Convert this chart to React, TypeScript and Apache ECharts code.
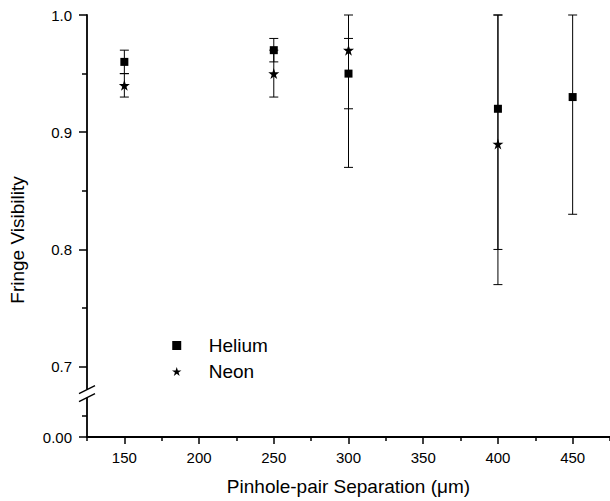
import React, { useEffect, useRef } from "react";
import * as echarts from "echarts";

// ---- data ----
const separations = [150, 250, 300, 400, 450];
const heliumValues = [0.96, 0.97, 0.95, 0.92, 0.93];
const heliumLow = [0.95, 0.96, 0.92, 0.8, 0.83];
const heliumHigh = [0.97, 0.98, 0.98, 1.0, 1.0];

const neonSeparations = [150, 250, 300, 400];
const neonValues = [0.94, 0.95, 0.97, 0.89];
const neonLow = [0.93, 0.93, 0.87, 0.77];
const neonHigh = [0.95, 0.97, 1.0, 1.0];

// x axis ticks
const xMajorTicks = [150, 200, 250, 300, 350, 400, 450];
const xMinorTicks = [125, 175, 225, 275, 325, 375, 425, 475];
const X_MIN = 125;
const X_MAX = 475;

// y axis (broken: bottom of the axis stands for 0.00)
const Y_MIN = 0.64;
const Y_MAX = 1.0;
const yMajorTicks = [0.64, 0.7, 0.8, 0.9, 1.0];
const yTickLabels = ["0.00", "0.7", "0.8", "0.9", "1.0"];
const yMinorTicks = [0.658, 0.75, 0.85, 0.95];
const BREAK_AT = 0.677;

const FONT = "'Liberation Sans', Arial, Helvetica, sans-serif";
const STAR =
  "path://M50,0 L61.2,34.5 L97.6,34.5 L68.2,55.9 L79.4,90.5 L50,69.1 L20.6,90.5 L31.8,55.9 L2.4,34.5 L38.8,34.5 Z";
const SQUARE = "path://M0,0 L10,0 L10,10 L0,10 Z";

function errorBarRenderer(params: any, api: any) {
  const x = api.value(0);
  const lo = api.value(1);
  const hi = api.value(2);
  const pHi = api.coord([x, hi]);
  const pLo = api.coord([x, lo]);
  const hw = 4.5;
  const style = { stroke: "#000", lineWidth: 1 };
  return {
    type: "group",
    children: [
      { type: "line", shape: { x1: pHi[0], y1: pHi[1], x2: pLo[0], y2: pLo[1] }, style },
      { type: "line", shape: { x1: pHi[0] - hw, y1: pHi[1], x2: pHi[0] + hw, y2: pHi[1] }, style },
      { type: "line", shape: { x1: pLo[0] - hw, y1: pLo[1], x2: pLo[0] + hw, y2: pLo[1] }, style },
    ],
  };
}

export default function App() {
  const ref = useRef<HTMLDivElement>(null);
  useEffect(() => {
    if (!ref.current) return;
    const chart = echarts.init(ref.current, null, { renderer: "svg" });
    const heliumErr = separations.map((x, i) => [x, heliumLow[i], heliumHigh[i]]);
    const neonErr = neonSeparations.map((x, i) => [x, neonLow[i], neonHigh[i]]);
    const axisLineStyle = { color: "#000", width: 1.8 };
    chart.setOption({
      animation: false,
      backgroundColor: "#fff",
      grid: { left: 86, right: 0, top: 15, bottom: 64 },
      legend: {
        data: [
          { name: "Helium", icon: SQUARE },
          { name: "Neon", icon: STAR },
        ],
        orient: "vertical",
        left: 167,
        top: 331,
        itemWidth: 54,
        itemHeight: 9,
        itemGap: 7,
        textStyle: { fontFamily: FONT, fontSize: 19, color: "#000" },
        selectedMode: false,
      },
      xAxis: [
        {
          type: "value",
          min: X_MIN,
          max: X_MAX,
          name: "Pinhole-pair Separation (\u03bcm)",
          nameLocation: "middle",
          nameGap: 40,
          nameTextStyle: { fontFamily: FONT, fontSize: 19, color: "#000" },
          axisLine: { show: true, lineStyle: axisLineStyle },
          axisTick: {
            show: true,
            customValues: xMajorTicks,
            length: 7,
            lineStyle: { color: "#000", width: 1.5 },
          },
          axisLabel: {
            customValues: xMajorTicks,
            margin: 13,
            fontFamily: FONT,
            fontSize: 15,
            color: "#000",
          },
          splitLine: { show: false },
        },
        {
          type: "value",
          min: X_MIN,
          max: X_MAX,
          position: "bottom",
          axisLine: { show: false },
          axisTick: {
            show: true,
            customValues: xMinorTicks,
            length: 4,
            lineStyle: { color: "#000", width: 1.5 },
          },
          axisLabel: { show: false },
          splitLine: { show: false },
        },
      ],
      yAxis: [
        {
          type: "value",
          min: Y_MIN,
          max: Y_MAX,
          name: "Fringe Visibility",
          nameLocation: "middle",
          nameGap: 60,
          nameTextStyle: {
            fontFamily: FONT,
            fontSize: 19,
            color: "#000",
            padding: [0, 28, 0, 0],
          },
          axisLine: { show: true, lineStyle: axisLineStyle },
          axisTick: {
            show: true,
            customValues: yMajorTicks,
            length: 8,
            lineStyle: { color: "#000", width: 1.5 },
          },
          axisLabel: {
            customValues: yMajorTicks,
            margin: 15,
            fontFamily: FONT,
            fontSize: 15,
            color: "#000",
            formatter: (v: number) => {
              const i = yMajorTicks.findIndex((t) => Math.abs(t - v) < 1e-6);
              return i >= 0 ? yTickLabels[i] : "";
            },
          },
          splitLine: { show: false },
        },
        {
          type: "value",
          min: Y_MIN,
          max: Y_MAX,
          position: "left",
          axisLine: { show: false },
          axisTick: {
            show: true,
            customValues: yMinorTicks,
            length: 5,
            lineStyle: { color: "#000", width: 1.5 },
          },
          axisLabel: { show: false },
          splitLine: { show: false },
        },
      ],
      series: [
        {
          name: "HeliumErr",
          type: "custom",
          renderItem: errorBarRenderer,
          data: heliumErr,
          encode: { x: 0, y: [1, 2] },
          z: 1,
          silent: true,
        },
        {
          name: "NeonErr",
          type: "custom",
          renderItem: errorBarRenderer,
          data: neonErr,
          encode: { x: 0, y: [1, 2] },
          z: 1,
          silent: true,
        },
        {
          name: "Helium",
          type: "scatter",
          symbol: SQUARE,
          symbolSize: 8,
          itemStyle: { color: "#000", opacity: 1 },
          data: separations.map((x, i) => [x, heliumValues[i]]),
          z: 3,
        },
        {
          name: "Neon",
          type: "scatter",
          symbol: STAR,
          symbolSize: 11,
          itemStyle: { color: "#000", opacity: 1 },
          data: neonSeparations.map((x, i) => [x, neonValues[i]]),
          z: 3,
        },
      ],
    });

    // axis-break marks, placed through the axes' own scale
    const c = chart.convertToPixel({ xAxisIndex: 0, yAxisIndex: 0 }, [X_MIN, BREAK_AT]) as number[];
    const bx = c[0];
    const by = c[1];
    const dx = 8;
    const dy = 4;
    const gap = 4;
    chart.setOption({
      graphic: [
        {
          type: "rect",
          shape: { x: bx - 2, y: by - gap, width: 4, height: gap * 2 },
          style: { fill: "#fff" },
          z: 100,
        },
        {
          type: "line",
          shape: { x1: bx - dx, y1: by - gap + dy, x2: bx + dx, y2: by - gap - dy },
          style: { stroke: "#000", lineWidth: 1.5 },
          z: 101,
        },
        {
          type: "line",
          shape: { x1: bx - dx, y1: by + gap + dy, x2: bx + dx, y2: by + gap - dy },
          style: { stroke: "#000", lineWidth: 1.5 },
          z: 101,
        },
      ],
    });
    return () => chart.dispose();
  }, []);
  return (
    <div
      ref={ref}
      style={{ position: "absolute", left: 0, top: 0, width: 610, height: 501, background: "#fff" }}
    />
  );
}
